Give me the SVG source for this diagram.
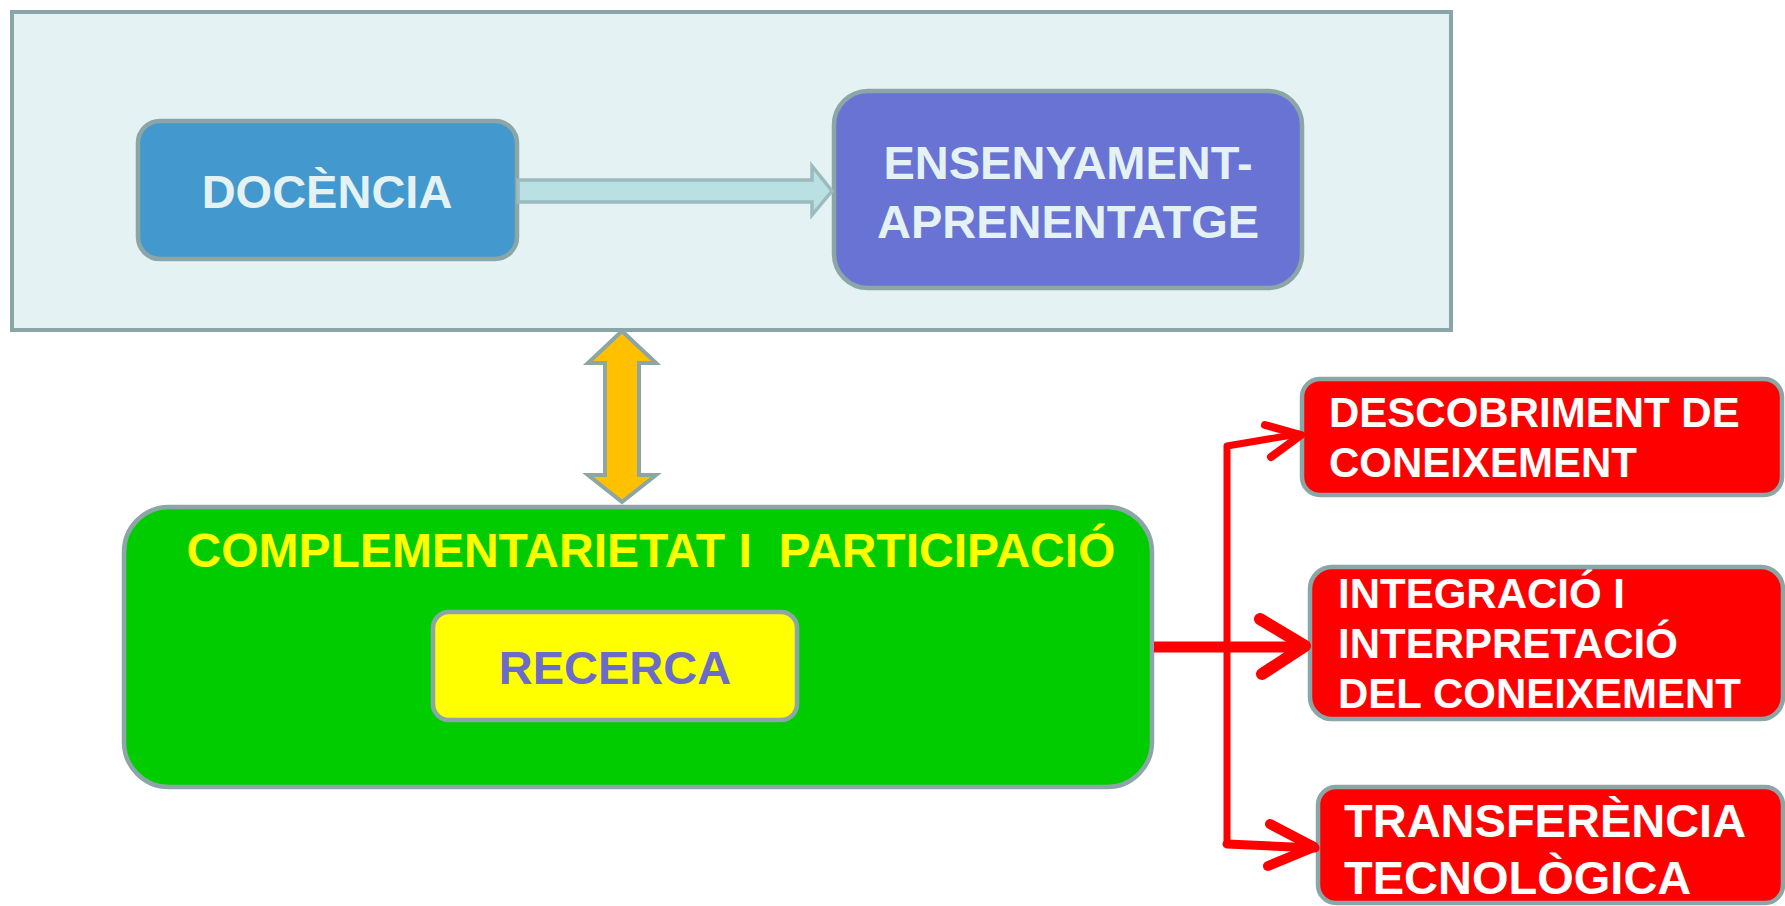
<svg xmlns="http://www.w3.org/2000/svg" width="1785" height="906" viewBox="0 0 1785 906">
<style>
text{font-family:"Liberation Sans",Arial,sans-serif;font-weight:bold;}
.box{stroke:#8CA6A7;stroke-width:4.5;}
.lt{fill:#E4F2F4;font-size:47px;text-anchor:middle;}
.wt{fill:#FFFFFF;}
.red{stroke:#FF0000;fill:none;stroke-linecap:round;stroke-linejoin:round;}
</style>
<rect width="1785" height="906" fill="#FFFFFF"/>
<g id="frame">
<rect x="12" y="12" width="1439" height="318" fill="#E4F2F3" stroke="#89A5A7" stroke-width="4"/>
</g>
<g id="docencia">
<rect class="box" x="138" y="121" width="379" height="138" rx="22" fill="#4398CD" stroke="#9BBBBE"/>
<text class="lt" x="327" y="208">DOCÈNCIA</text>
</g>
<g id="ensenyament">
<rect class="box" x="834" y="91" width="468" height="197" rx="34" fill="#6873D3" stroke="#9BBBBE"/>
<text class="lt" x="1068" y="179">ENSENYAMENT-</text>
<text class="lt" x="1068" y="238">APRENENTATGE</text>
</g>
<g id="complementarietat">
<rect class="box" x="124" y="507" width="1028" height="280" rx="45" fill="#00CC00"/>
<text x="651" y="567" fill="#FFFF00" font-size="48" text-anchor="middle" xml:space="preserve">COMPLEMENTARIETAT I  PARTICIPACIÓ</text>
</g>
<g id="recerca">
<rect class="box" x="433" y="612" width="364" height="108" rx="16" fill="#FFFF00"/>
<text x="615" y="684" fill="#6B6BCB" font-size="47" text-anchor="middle">RECERCA</text>
</g>
<g id="descobriment">
<rect class="box" x="1302" y="379" width="480" height="116" rx="18" fill="#FF0000"/>
<text class="wt" x="1329" y="427" font-size="42">DESCOBRIMENT DE</text>
<text class="wt" x="1329" y="477" font-size="42">CONEIXEMENT</text>
</g>
<g id="integracio">
<rect class="box" x="1310" y="567" width="473" height="152" rx="22" fill="#FF0000"/>
<text class="wt" x="1338" y="608" font-size="42">INTEGRACIÓ I</text>
<text class="wt" x="1338" y="658" font-size="42">INTERPRETACIÓ</text>
<text class="wt" x="1338" y="708" font-size="42">DEL CONEIXEMENT</text>
</g>
<g id="transferencia">
<rect class="box" x="1318" y="787" width="465" height="116" rx="18" fill="#FF0000"/>
<text class="wt" x="1344" y="837" font-size="47">TRANSFERÈNCIA</text>
<text class="wt" x="1344" y="894" font-size="47">TECNOLÒGICA</text>
</g>
<g id="connectors">
<polygon points="518,180 812,180 812,166 832,191 812,215 812,202 518,202" fill="#B9E0E3" stroke="#9BBBBE" stroke-width="3.5" stroke-linejoin="miter"/>
<polygon points="622,331 656,363 639,363 639,475 656,475 622,502 588,475 605,475 605,363 588,363" fill="#FFC000" stroke="#8CA5A5" stroke-width="4"/>
<line x1="1154" y1="647" x2="1300" y2="647" stroke="#FF0000" stroke-width="11"/>
<polyline class="red" points="1227,844 1227,446 1298,434" stroke-width="7" stroke-linecap="butt"/>
<polyline class="red" points="1227,844 1315,848" stroke-width="9" stroke-linecap="butt"/>
<polyline class="red" points="1265,425 1301,435 1271,457" stroke-width="8"/>
<polyline class="red" points="1260,619 1305,646 1262,674" stroke-width="12"/>
<polyline class="red" points="1270,824 1314,847 1268,866" stroke-width="10"/>
</g>
</svg>
